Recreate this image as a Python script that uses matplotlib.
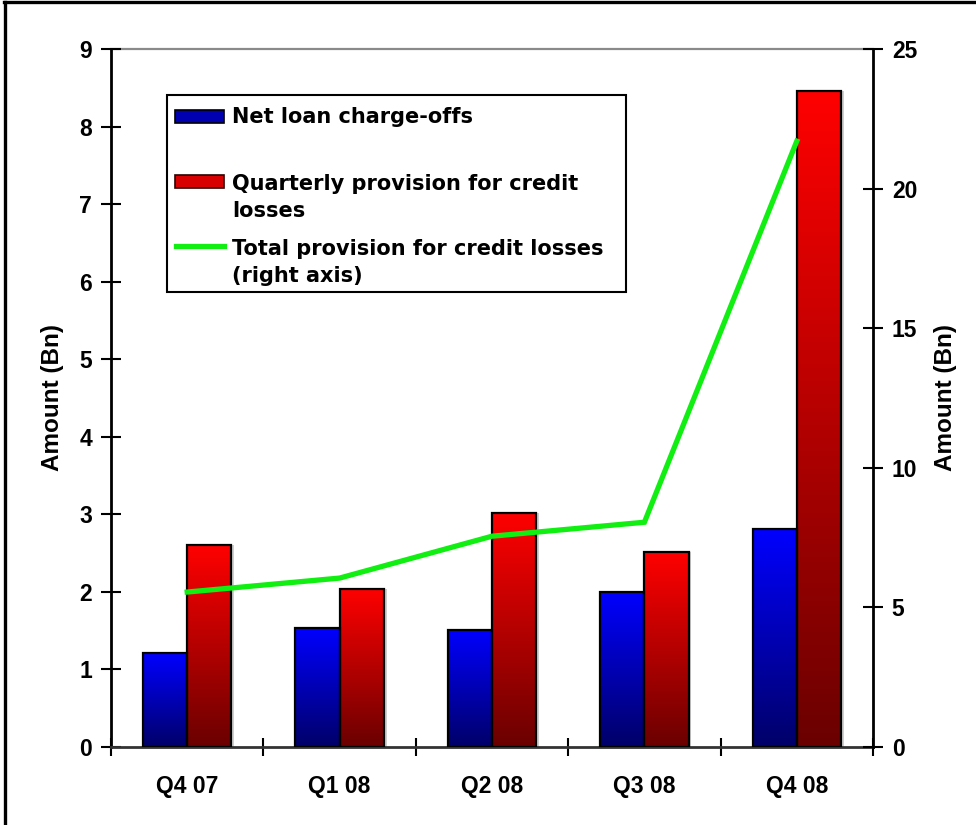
import os
import numpy as np
import matplotlib
matplotlib.use("Agg")
import matplotlib.pyplot as plt
from matplotlib import font_manager as fm
from matplotlib.font_manager import FontProperties
from matplotlib.patches import Rectangle
from matplotlib.lines import Line2D
from matplotlib.colors import LinearSegmentedColormap

# ---- data (billions) ----
quarters = ["Q4 07", "Q1 08", "Q2 08", "Q3 08", "Q4 08"]
net_chargeoffs = [1.21, 1.53, 1.51, 2.00, 2.81]
quarterly_provision = [2.60, 2.04, 3.02, 2.51, 8.46]
total_provision = [5.55, 6.05, 7.55, 8.05, 21.7]   # right axis
left_ticks = list(range(0, 10))
right_ticks = [0, 5, 10, 15, 20, 25]

legend_labels = [
    ["Net loan charge-offs"],
    ["Quarterly provision for credit", "losses"],
    ["Total provision for credit losses", "(right axis)"],
]

# Arial-metric bold face for axis text
bold_path = None
for f in fm.fontManager.ttflist:
    if os.path.basename(f.fname).lower() == "liberationsans-bold.ttf":
        bold_path = f.fname
        break


def arial_bold(size):
    if bold_path:
        return FontProperties(fname=bold_path, size=size)
    return FontProperties(family="DejaVu Sans", weight="bold", size=size)


plt.rcParams["font.family"] = ["DejaVu Sans"]
plt.rcParams["font.weight"] = "bold"

W, H = 976, 825
fig = plt.figure(figsize=(W / 100, H / 100), dpi=100)


def fx(px):
    return px / W


def fy(py):
    return 1 - py / H


ax = fig.add_axes([fx(111), fy(747), fx(873) - fx(111), fy(49) - fy(747)])
ax2 = ax.twinx()

x = np.arange(len(quarters))
w = 0.29
blue_cmap = LinearSegmentedColormap.from_list("blue_grad", ["#000068", "#0000ff"])
red_cmap = LinearSegmentedColormap.from_list("red_grad", ["#6a0000", "#ff0000"])
grad = np.linspace(0, 1, 256).reshape(-1, 1)


def gradient_bars(xs, heights, cmap):
    bars = ax.bar(xs, heights, w, facecolor="none", edgecolor="black",
                  linewidth=1.6, zorder=3)
    for b in bars:
        x0, h = b.get_x(), b.get_height()
        im = ax.imshow(grad, extent=[x0, x0 + w, 0, h], origin="lower",
                       aspect="auto", cmap=cmap, zorder=2, interpolation="bicubic")
        im.set_clip_path(b)
    return bars


# soft shadow on the right of the red bars
ax.bar(x + w / 2 + 0.018, quarterly_provision, w, color="#cfcfcf", zorder=1)
gradient_bars(x - w / 2, net_chargeoffs, blue_cmap)
gradient_bars(x + w / 2, quarterly_provision, red_cmap)

ax2.plot(x, total_provision, color="#11ee11", lw=3.8, zorder=5,
         solid_joinstyle="miter")

# ---- axes ----
ax.set_xlim(-0.5, len(quarters) - 0.5)
ax.set_ylim(0, 9)
ax2.set_ylim(0, 25)

ax.set_xticks(x)
ax.set_xticklabels(quarters)
ax.set_xticks(np.arange(-0.5, len(quarters)), minor=True)
ax.tick_params(axis="x", which="major", length=0, pad=20)
ax.tick_params(axis="x", which="minor", direction="inout", length=13, width=1.5)

ax.set_yticks(left_ticks)
ax.tick_params(axis="y", direction="inout", length=15, width=1.5, pad=6)
ax2.set_yticks(right_ticks)
ax2.tick_params(axis="y", direction="inout", length=15, width=1.5, pad=6)

tick_fp = arial_bold(16.5)
for lbl in ax.get_xticklabels() + ax.get_yticklabels() + ax2.get_yticklabels():
    lbl.set_fontproperties(tick_fp)

ax.set_ylabel("Amount (Bn)", fontproperties=arial_bold(17.5), labelpad=11)
ax2.set_ylabel("Amount (Bn)", fontproperties=arial_bold(17.5), labelpad=12)

for s in ("top", "right"):
    ax.spines[s].set_visible(False)
for s in ("top", "left", "bottom"):
    ax2.spines[s].set_visible(False)
ax.spines["left"].set_linewidth(2)
ax.spines["bottom"].set_linewidth(2)
ax.spines["bottom"].set_color("#333333")
ax2.spines["right"].set_linewidth(2)
ax.add_line(Line2D([0, 1], [1, 1], transform=ax.transAxes, color="#8a8a8a",
                   lw=1.6, clip_on=False, zorder=0))

# ---- legend ----
fig.add_artist(Rectangle((fx(167), fy(292)), fx(626) - fx(167), fy(95) - fy(292),
                         transform=fig.transFigure, facecolor="white",
                         edgecolor="black", lw=1.5, zorder=10))
fig.add_artist(Rectangle((fx(175), fy(123)), fx(224) - fx(175), fy(110) - fy(123),
                         transform=fig.transFigure, facecolor="#0000b0",
                         edgecolor="black", lw=1.2, zorder=11))
fig.add_artist(Rectangle((fx(175), fy(188)), fx(224) - fx(175), fy(175) - fy(188),
                         transform=fig.transFigure, facecolor="#d80000",
                         edgecolor="#300000", lw=1.2, zorder=11))
fig.add_artist(Line2D([fx(176), fx(224)], [fy(246), fy(246)],
                      transform=fig.transFigure, color="#11ee11", lw=3.8, zorder=11))

baselines = [[123], [190, 217], [255, 282]]
for lines, bls in zip(legend_labels, baselines):
    for txt, bl in zip(lines, bls):
        fig.text(fx(232), fy(bl), txt, fontsize=15, fontweight="bold",
                 family=["DejaVu Sans"], va="baseline", ha="left", zorder=12)

# ---- outer frame ----
fig.add_artist(Line2D([fx(5), fx(5)], [fy(2), fy(H + 5)], transform=fig.transFigure,
                      color="black", lw=2.4))
fig.add_artist(Line2D([fx(4), fx(W + 5)], [fy(2), fy(2)], transform=fig.transFigure,
                      color="black", lw=2.4))

fig.savefig("out.png", dpi=100)
